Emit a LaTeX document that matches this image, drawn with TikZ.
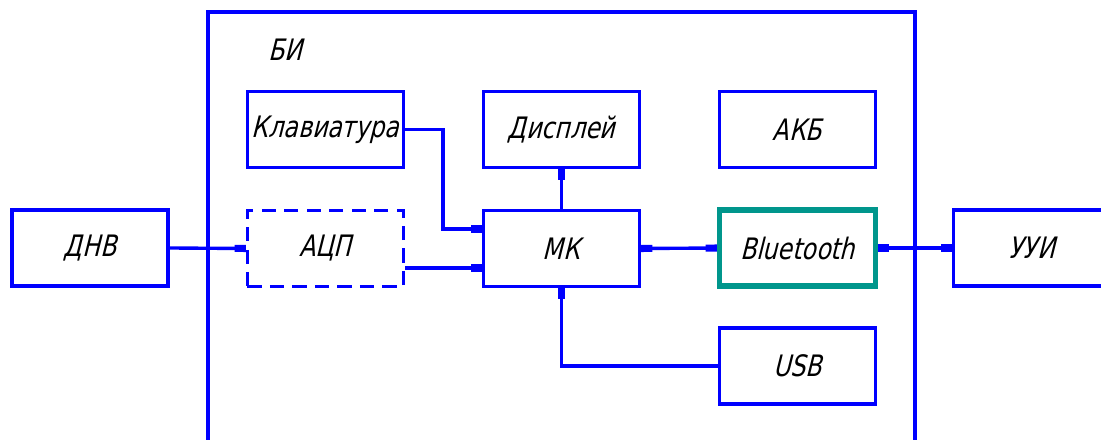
\documentclass[tikz,border=0pt]{standalone}
\usepackage{fontspec}
\newfontfamily\gostfont{DejaVu Sans}[FakeSlant=0.25,FakeStretch=0.8]
\usepackage{tikz}
\usetikzlibrary{positioning,calc,arrows.meta}

\definecolor{lineblue}{RGB}{0,0,255}
\definecolor{btteal}{RGB}{0,150,140}

\begin{document}
\begin{tikzpicture}[x=0.025cm, y=-0.025cm,
    >={Rectangle[length=8pt,width=5pt]},
    block/.style={draw=lineblue, line width=2.4pt, minimum width=3.9cm,
      minimum height=1.9cm, inner sep=0pt, font=\gostfont\fontsize{21}{24}\selectfont},
    sig/.style={lineblue, line width=2.4pt, ->},
    bisig/.style={lineblue, line width=2.4pt, <->}]
      \useasboundingbox (0,0) rectangle (1101,440);

      % Define the coordinates
      \coordinate (DNV) at (90,248);
      \coordinate (ADC) at (325.5,248.5);
      \coordinate (KBD) at (325.5,129.5);
      \coordinate (DISP) at (561.5,129.5);
      \coordinate (AKB) at (797.5,129.5);
      \coordinate (MK) at (561.5,248.5);
      \coordinate (BT) at (797.5,248);
      \coordinate (USB) at (797.5,366);
      \coordinate (UUI) at (1031.5,248);

      % Draw the frame of the unit
      \draw[lineblue, line width=2.4pt] (208,440) -- (208,12) -- (915,12) -- (915,440);
      \node[font=\gostfont\fontsize{21}{24}\selectfont] (bi) at (285,50) {БИ};

      % Draw the blocks
      \node[block] (dnv) at (DNV) {ДНВ};
      \node[block, dashed, dash pattern=on 10pt off 6pt] (adc) at (ADC) {АЦП};
      \node[block] (kbd) at (KBD) {Клавиатура};
      \node[block] (disp) at (DISP) {Дисплей};
      \node[block] (akb) at (AKB) {АКБ};
      \node[block] (mk) at (MK) {МК};
      \node[block, draw=btteal, line width=3.8pt] (bt) at (BT) {Bluetooth};
      \node[block] (usb) at (USB) {USB};
      \node[block] (uui) at (UUI) {УУИ};

      % Draw the connections
      \coordinate (kbdbend) at (443,229);
      \draw[sig] (dnv.east) -- (adc.west);
      \draw[sig] (kbd.east) -| (kbdbend) -- (mk.west |- kbdbend);
      \draw[sig] ($(adc.east)+(0,19.5)$) -- ($(mk.west)+(0,19.5)$);
      \draw[sig] (mk.north) -- (disp.south);
      \draw[bisig] (mk.east) -- (bt.west);
      \draw[bisig] (bt.east) -- (uui.west);
      \draw[sig] (usb.west) -| (mk.south);
    \end{tikzpicture}
\end{document}
